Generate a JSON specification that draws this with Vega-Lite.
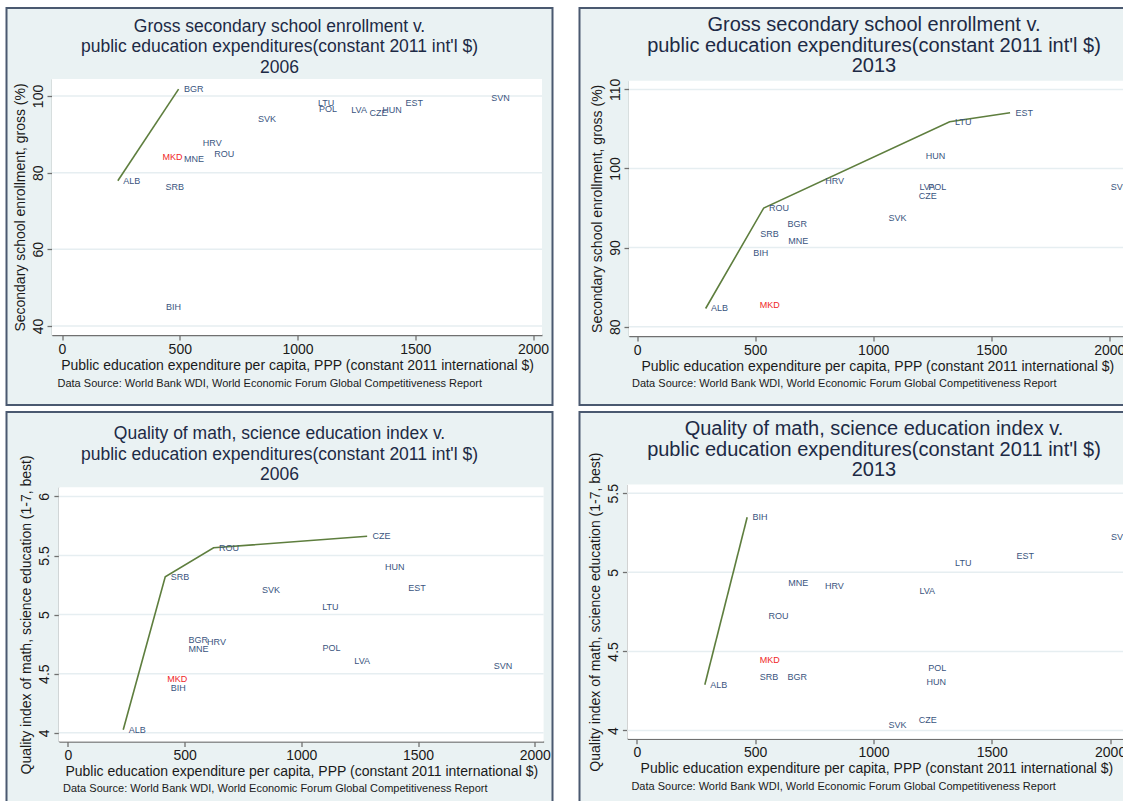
{
"$schema": "https://vega.github.io/schema/vega-lite/v6.json",
"background": "white",
"padding": {"left": 5.5, "top": 7, "right": 0, "bottom": 0},
"datasets": {
"enr2006": [
{"country":"ALB","exp":237,"val":77.9,"front":true},
{"country":"BGR","exp":495,"val":101.8,"front":true},
{"country":"MKD","exp":404,"val":84.0,"front":false},
{"country":"MNE","exp":495,"val":83.6,"front":false},
{"country":"HRV","exp":575,"val":87.8,"front":false},
{"country":"ROU","exp":624,"val":84.95,"front":false},
{"country":"SRB","exp":416,"val":76.3,"front":false},
{"country":"BIH","exp":419,"val":44.9,"front":false},
{"country":"SVK","exp":809,"val":94.1,"front":false},
{"country":"LTU","exp":1064,"val":98.1,"front":false},
{"country":"POL","exp":1068,"val":96.6,"front":false},
{"country":"LVA","exp":1205,"val":96.4,"front":false},
{"country":"CZE","exp":1283,"val":95.6,"front":false},
{"country":"HUN","exp":1337,"val":96.4,"front":false},
{"country":"EST","exp":1435,"val":98.2,"front":false},
{"country":"SVN","exp":1800,"val":99.6,"front":false}
],
"enr2013": [
{"country":"ALB","exp":290,"val":82.3,"front":true},
{"country":"MKD","exp":496,"val":82.7,"front":false},
{"country":"BIH","exp":469,"val":89.3,"front":false},
{"country":"SRB","exp":499,"val":91.7,"front":false},
{"country":"ROU","exp":536,"val":95.0,"front":true},
{"country":"BGR","exp":614,"val":93.0,"front":false},
{"country":"MNE","exp":617,"val":90.8,"front":false},
{"country":"HRV","exp":774,"val":98.4,"front":false},
{"country":"SVK","exp":1042,"val":93.8,"front":false},
{"country":"HUN","exp":1200,"val":101.6,"front":false},
{"country":"LVA","exp":1173,"val":97.6,"front":false},
{"country":"POL","exp":1210,"val":97.6,"front":false},
{"country":"CZE","exp":1170,"val":96.5,"front":false},
{"country":"LTU","exp":1324,"val":105.9,"front":true},
{"country":"EST","exp":1580,"val":107.05,"front":true},
{"country":"SVN","exp":1984,"val":97.6,"front":false}
],
"q2006": [
{"country":"ALB","exp":237,"val":4.025,"front":true},
{"country":"SRB","exp":417,"val":5.32,"front":true},
{"country":"ROU","exp":624,"val":5.565,"front":true},
{"country":"CZE","exp":1282,"val":5.663,"front":true},
{"country":"HUN","exp":1335,"val":5.40,"front":false},
{"country":"EST","exp":1435,"val":5.227,"front":false},
{"country":"SVK","exp":808,"val":5.204,"front":false},
{"country":"LTU","exp":1066,"val":5.068,"front":false},
{"country":"BGR","exp":494,"val":4.787,"front":false},
{"country":"HRV","exp":573,"val":4.764,"front":false},
{"country":"MNE","exp":494,"val":4.705,"front":false},
{"country":"POL","exp":1068,"val":4.719,"front":false},
{"country":"LVA","exp":1204,"val":4.603,"front":false},
{"country":"SVN","exp":1801,"val":4.561,"front":false},
{"country":"MKD","exp":402,"val":4.459,"front":false},
{"country":"BIH","exp":417,"val":4.377,"front":false}
],
"q2013": [
{"country":"ALB","exp":287,"val":4.289,"front":true},
{"country":"BIH","exp":466,"val":5.348,"front":true},
{"country":"MNE","exp":617,"val":4.931,"front":false},
{"country":"HRV","exp":772,"val":4.912,"front":false},
{"country":"ROU","exp":533,"val":4.721,"front":false},
{"country":"MKD","exp":496,"val":4.445,"front":false},
{"country":"SRB","exp":496,"val":4.339,"front":false},
{"country":"BGR","exp":614,"val":4.337,"front":false},
{"country":"LVA","exp":1171,"val":4.881,"front":false},
{"country":"LTU","exp":1322,"val":5.058,"front":false},
{"country":"EST","exp":1581,"val":5.104,"front":false},
{"country":"SVN","exp":1981,"val":5.226,"front":false},
{"country":"POL","exp":1208,"val":4.396,"front":false},
{"country":"HUN","exp":1201,"val":4.305,"front":false},
{"country":"CZE","exp":1168,"val":4.068,"front":false},
{"country":"SVK","exp":1041,"val":4.036,"front":false}
]
},
"spacing": 5,
"vconcat": [
{"spacing": 25, "hconcat": [
{
"width": 546, "height": 397,
"title": {"text": ["Gross secondary school enrollment v.", "public education expenditures(constant 2011 int'l $)", "2006"], "fontSize": 17.5, "offset": -68},
"layer": [
{"data": {"values": [{}]}, "mark": {"type": "rect", "fill": "white"},
 "encoding": {
  "x": {"datum": -42.5, "type": "quantitative", "scale": {"domain": [-42.5, 2038], "range": [45.5, 535.5], "nice": false, "zero": false}, "axis": {"values": [0,500,1000,1500,2000], "format": "d", "orient": "bottom", "offset": -70, "title": "Public education expenditure per capita, PPP (constant 2011 international $)"}},
  "x2": {"datum": 2038},
  "y": {"datum": 37.65, "type": "quantitative", "scale": {"domain": [37.65, 104.43], "range": [327, 71], "nice": false, "zero": false}, "axis": {"values": [40,60,80,100], "format": "d", "orient": "left", "offset": -45.5, "title": "Secondary school enrollment, gross (%)"}},
  "y2": {"datum": 104.43}}},
{"data": {"values": [{}]}, "mark": {"type": "rule", "color": "#E6EEF1", "strokeWidth": 1.5},
 "encoding": {"x": {"datum": -42.5, "type": "quantitative", "axis": null}, "x2": {"datum": 2038}, "y": {"datum": 40, "type": "quantitative", "axis": null}}},
{"data": {"values": [{}]}, "mark": {"type": "rule", "color": "#E6EEF1", "strokeWidth": 1.5},
 "encoding": {"x": {"datum": -42.5, "type": "quantitative", "axis": null}, "x2": {"datum": 2038}, "y": {"datum": 60, "type": "quantitative", "axis": null}}},
{"data": {"values": [{}]}, "mark": {"type": "rule", "color": "#E6EEF1", "strokeWidth": 1.5},
 "encoding": {"x": {"datum": -42.5, "type": "quantitative", "axis": null}, "x2": {"datum": 2038}, "y": {"datum": 80, "type": "quantitative", "axis": null}}},
{"data": {"values": [{}]}, "mark": {"type": "rule", "color": "#E6EEF1", "strokeWidth": 1.5},
 "encoding": {"x": {"datum": -42.5, "type": "quantitative", "axis": null}, "x2": {"datum": 2038}, "y": {"datum": 100, "type": "quantitative", "axis": null}}},
{"data": {"name": "enr2006"}, "transform": [{"filter": "datum.front"}],
 "mark": {"type": "line", "color": "#5E7E3E", "strokeWidth": 1.6},
 "encoding": {
  "x": {"field": "exp", "type": "quantitative", "axis": {"orient": "bottom", "offset": -70, "domain": false, "ticks": false, "labels": false, "title": "Data Source: World Bank WDI, World Economic Forum Global Competitiveness Report", "titleFontSize": 11, "titleAnchor": "start", "titleAlign": "left", "titleX": 50.5, "titleY": 48, "titleBaseline": "middle"}},
  "y": {"field": "val", "type": "quantitative", "axis": null}}},
{"data": {"name": "enr2006"},
 "mark": {"type": "text", "align": "left", "baseline": "middle", "dx": 5.4, "fontSize": 9},
 "encoding": {
  "x": {"field": "exp", "type": "quantitative", "axis": null},
  "y": {"field": "val", "type": "quantitative", "axis": null},
  "text": {"field": "country"},
  "color": {"condition": {"test": "datum.country === 'MKD'", "value": "#F02828"}, "value": "#3A5580"}}}
],
"resolve": {"axis": {"x": "independent", "y": "independent"}}
},
{
"width": 546, "height": 397,
"title": {"text": ["Gross secondary school enrollment v.", "public education expenditures(constant 2011 int'l $)", "2013"], "fontSize": 20, "offset": -68, "dx": 21.5},
"layer": [
{"data": {"values": [{}]}, "mark": {"type": "rect", "fill": "white"},
 "encoding": {
  "x": {"datum": -34.7, "type": "quantitative", "scale": {"domain": [-34.7, 2069], "range": [49.5, 546], "nice": false, "zero": false}, "axis": {"values": [0,500,1000,1500,2000], "format": "d", "orient": "bottom", "offset": -69, "title": "Public education expenditure per capita, PPP (constant 2011 international $)"}},
  "x2": {"datum": 2069},
  "y": {"datum": 78.82, "type": "quantitative", "scale": {"domain": [78.82, 111.1], "range": [328, 72.7], "nice": false, "zero": false}, "axis": {"values": [80,90,100,110], "format": "d", "orient": "left", "offset": -49.5, "title": "Secondary school enrollment, gross (%)"}},
  "y2": {"datum": 111.1}}},
{"data": {"values": [{}]}, "mark": {"type": "rule", "color": "#E6EEF1", "strokeWidth": 1.5},
 "encoding": {"x": {"datum": -34.7, "type": "quantitative", "axis": null}, "x2": {"datum": 2069}, "y": {"datum": 80, "type": "quantitative", "axis": null}}},
{"data": {"values": [{}]}, "mark": {"type": "rule", "color": "#E6EEF1", "strokeWidth": 1.5},
 "encoding": {"x": {"datum": -34.7, "type": "quantitative", "axis": null}, "x2": {"datum": 2069}, "y": {"datum": 90, "type": "quantitative", "axis": null}}},
{"data": {"values": [{}]}, "mark": {"type": "rule", "color": "#E6EEF1", "strokeWidth": 1.5},
 "encoding": {"x": {"datum": -34.7, "type": "quantitative", "axis": null}, "x2": {"datum": 2069}, "y": {"datum": 100, "type": "quantitative", "axis": null}}},
{"data": {"values": [{}]}, "mark": {"type": "rule", "color": "#E6EEF1", "strokeWidth": 1.5},
 "encoding": {"x": {"datum": -34.7, "type": "quantitative", "axis": null}, "x2": {"datum": 2069}, "y": {"datum": 110, "type": "quantitative", "axis": null}}},
{"data": {"name": "enr2013"}, "transform": [{"filter": "datum.front"}],
 "mark": {"type": "line", "color": "#5E7E3E", "strokeWidth": 1.6},
 "encoding": {
  "x": {"field": "exp", "type": "quantitative", "axis": {"orient": "bottom", "offset": -69, "domain": false, "ticks": false, "labels": false, "title": "Data Source: World Bank WDI, World Economic Forum Global Competitiveness Report", "titleFontSize": 11, "titleAnchor": "start", "titleAlign": "left", "titleX": 52, "titleY": 47.3, "titleBaseline": "middle"}},
  "y": {"field": "val", "type": "quantitative", "axis": null}}},
{"data": {"name": "enr2013"},
 "mark": {"type": "text", "align": "left", "baseline": "middle", "dx": 5.4, "fontSize": 9},
 "encoding": {
  "x": {"field": "exp", "type": "quantitative", "axis": null},
  "y": {"field": "val", "type": "quantitative", "axis": null},
  "text": {"field": "country"},
  "color": {"condition": {"test": "datum.country === 'MKD'", "value": "#F02828"}, "value": "#3A5580"}}}
],
"resolve": {"axis": {"x": "independent", "y": "independent"}}
}
]},
{"spacing": 25, "hconcat": [
{
"width": 546, "height": 397,
"title": {"text": ["Quality of math, science education index v.", "public education expenditures(constant 2011 int'l $)", "2006"], "fontSize": 17.5, "offset": -71.5},
"layer": [
{"data": {"values": [{}]}, "mark": {"type": "rect", "fill": "white"},
 "encoding": {
  "x": {"datum": -38.6, "type": "quantitative", "scale": {"domain": [-38.6, 2038], "range": [52.4, 537.1], "nice": false, "zero": false}, "axis": {"values": [0,500,1000,1500,2000], "format": "d", "orient": "bottom", "offset": -67.5, "title": "Public education expenditure per capita, PPP (constant 2011 international $)"}},
  "x2": {"datum": 2038},
  "y": {"datum": 3.926, "type": "quantitative", "scale": {"domain": [3.926, 6.078], "range": [329.5, 75.2], "nice": false, "zero": false}, "axis": {"values": [4,4.5,5,5.5,6], "format": "~g", "orient": "left", "offset": -52.4, "title": "Quality index of math, science education (1-7, best)"}},
  "y2": {"datum": 6.078}}},
{"data": {"values": [{}]}, "mark": {"type": "rule", "color": "#E6EEF1", "strokeWidth": 1.5},
 "encoding": {"x": {"datum": -38.6, "type": "quantitative", "axis": null}, "x2": {"datum": 2038}, "y": {"datum": 4, "type": "quantitative", "axis": null}}},
{"data": {"values": [{}]}, "mark": {"type": "rule", "color": "#E6EEF1", "strokeWidth": 1.5},
 "encoding": {"x": {"datum": -38.6, "type": "quantitative", "axis": null}, "x2": {"datum": 2038}, "y": {"datum": 4.5, "type": "quantitative", "axis": null}}},
{"data": {"values": [{}]}, "mark": {"type": "rule", "color": "#E6EEF1", "strokeWidth": 1.5},
 "encoding": {"x": {"datum": -38.6, "type": "quantitative", "axis": null}, "x2": {"datum": 2038}, "y": {"datum": 5, "type": "quantitative", "axis": null}}},
{"data": {"values": [{}]}, "mark": {"type": "rule", "color": "#E6EEF1", "strokeWidth": 1.5},
 "encoding": {"x": {"datum": -38.6, "type": "quantitative", "axis": null}, "x2": {"datum": 2038}, "y": {"datum": 5.5, "type": "quantitative", "axis": null}}},
{"data": {"values": [{}]}, "mark": {"type": "rule", "color": "#E6EEF1", "strokeWidth": 1.5},
 "encoding": {"x": {"datum": -38.6, "type": "quantitative", "axis": null}, "x2": {"datum": 2038}, "y": {"datum": 6, "type": "quantitative", "axis": null}}},
{"data": {"name": "q2006"}, "transform": [{"filter": "datum.front"}],
 "mark": {"type": "line", "color": "#5E7E3E", "strokeWidth": 1.6},
 "encoding": {
  "x": {"field": "exp", "type": "quantitative", "axis": {"orient": "bottom", "offset": -67.5, "domain": false, "ticks": false, "labels": false, "title": "Data Source: World Bank WDI, World Economic Forum Global Competitiveness Report", "titleFontSize": 11, "titleAnchor": "start", "titleAlign": "left", "titleX": 56, "titleY": 46.7, "titleBaseline": "middle"}},
  "y": {"field": "val", "type": "quantitative", "axis": null}}},
{"data": {"name": "q2006"},
 "mark": {"type": "text", "align": "left", "baseline": "middle", "dx": 5.4, "fontSize": 9},
 "encoding": {
  "x": {"field": "exp", "type": "quantitative", "axis": null},
  "y": {"field": "val", "type": "quantitative", "axis": null},
  "text": {"field": "country"},
  "color": {"condition": {"test": "datum.country === 'MKD'", "value": "#F02828"}, "value": "#3A5580"}}}
],
"resolve": {"axis": {"x": "independent", "y": "independent"}}
},
{
"width": 546, "height": 397,
"title": {"text": ["Quality of math, science education index v.", "public education expenditures(constant 2011 int'l $)", "2013"], "fontSize": 20, "offset": -68, "dx": 21.5},
"layer": [
{"data": {"values": [{}]}, "mark": {"type": "rect", "fill": "white"},
 "encoding": {
  "x": {"datum": -40.2, "type": "quantitative", "scale": {"domain": [-40.2, 2065], "range": [47.9, 546], "nice": false, "zero": false}, "axis": {"values": [0,500,1000,1500,2000], "format": "d", "orient": "bottom", "offset": -70.2, "title": "Public education expenditure per capita, PPP (constant 2011 international $)"}},
  "x2": {"datum": 2065},
  "y": {"datum": 3.9475, "type": "quantitative", "scale": {"domain": [3.9475, 5.555], "range": [326.8, 72.5], "nice": false, "zero": false}, "axis": {"values": [4,4.5,5,5.5], "format": "~g", "orient": "left", "offset": -47.9, "title": "Quality index of math, science education (1-7, best)"}},
  "y2": {"datum": 5.555}}},
{"data": {"values": [{}]}, "mark": {"type": "rule", "color": "#E6EEF1", "strokeWidth": 1.5},
 "encoding": {"x": {"datum": -40.2, "type": "quantitative", "axis": null}, "x2": {"datum": 2065}, "y": {"datum": 4, "type": "quantitative", "axis": null}}},
{"data": {"values": [{}]}, "mark": {"type": "rule", "color": "#E6EEF1", "strokeWidth": 1.5},
 "encoding": {"x": {"datum": -40.2, "type": "quantitative", "axis": null}, "x2": {"datum": 2065}, "y": {"datum": 4.5, "type": "quantitative", "axis": null}}},
{"data": {"values": [{}]}, "mark": {"type": "rule", "color": "#E6EEF1", "strokeWidth": 1.5},
 "encoding": {"x": {"datum": -40.2, "type": "quantitative", "axis": null}, "x2": {"datum": 2065}, "y": {"datum": 5, "type": "quantitative", "axis": null}}},
{"data": {"values": [{}]}, "mark": {"type": "rule", "color": "#E6EEF1", "strokeWidth": 1.5},
 "encoding": {"x": {"datum": -40.2, "type": "quantitative", "axis": null}, "x2": {"datum": 2065}, "y": {"datum": 5.5, "type": "quantitative", "axis": null}}},
{"data": {"name": "q2013"}, "transform": [{"filter": "datum.front"}],
 "mark": {"type": "line", "color": "#5E7E3E", "strokeWidth": 1.6},
 "encoding": {
  "x": {"field": "exp", "type": "quantitative", "axis": {"orient": "bottom", "offset": -70.2, "domain": false, "ticks": false, "labels": false, "title": "Data Source: World Bank WDI, World Economic Forum Global Competitiveness Report", "titleFontSize": 11, "titleAnchor": "start", "titleAlign": "left", "titleX": 51.4, "titleY": 47.4, "titleBaseline": "middle"}},
  "y": {"field": "val", "type": "quantitative", "axis": null}}},
{"data": {"name": "q2013"},
 "mark": {"type": "text", "align": "left", "baseline": "middle", "dx": 5.4, "fontSize": 9},
 "encoding": {
  "x": {"field": "exp", "type": "quantitative", "axis": null},
  "y": {"field": "val", "type": "quantitative", "axis": null},
  "text": {"field": "country"},
  "color": {"condition": {"test": "datum.country === 'MKD'", "value": "#F02828"}, "value": "#3A5580"}}}
],
"resolve": {"axis": {"x": "independent", "y": "independent"}}
}
]}
],
"config": {
 "font": "Liberation Sans",
 "view": {"fill": "#EAF2F3", "stroke": "#4A5970", "strokeWidth": 2},
 "axis": {"zindex": 1, "grid": false, "domainColor": "#707070", "domainWidth": 1.3, "tickColor": "#707070", "tickWidth": 1.3, "tickSize": 5, "labelFontSize": 14, "labelColor": "#1a1a1a", "labelFlush": false, "labelOverlap": false, "titleFontSize": 14, "titleFontWeight": "normal", "titleColor": "#1a1a1a", "labelFont": "Liberation Sans", "titleFont": "Liberation Sans"},
 "axisX": {"labelPadding": 2, "titlePadding": 2},
 "axisY": {"labelAngle": 270, "labelAlign": "center", "labelBaseline": "bottom", "labelPadding": 2, "titlePadding": 4},
 "title": {"font": "Liberation Sans", "fontWeight": "normal", "color": "#1d2a45", "anchor": "middle", "frame": "group", "baseline": "top", "lineHeight": 20.5},
 "text": {"font": "Liberation Sans"}
}
}
